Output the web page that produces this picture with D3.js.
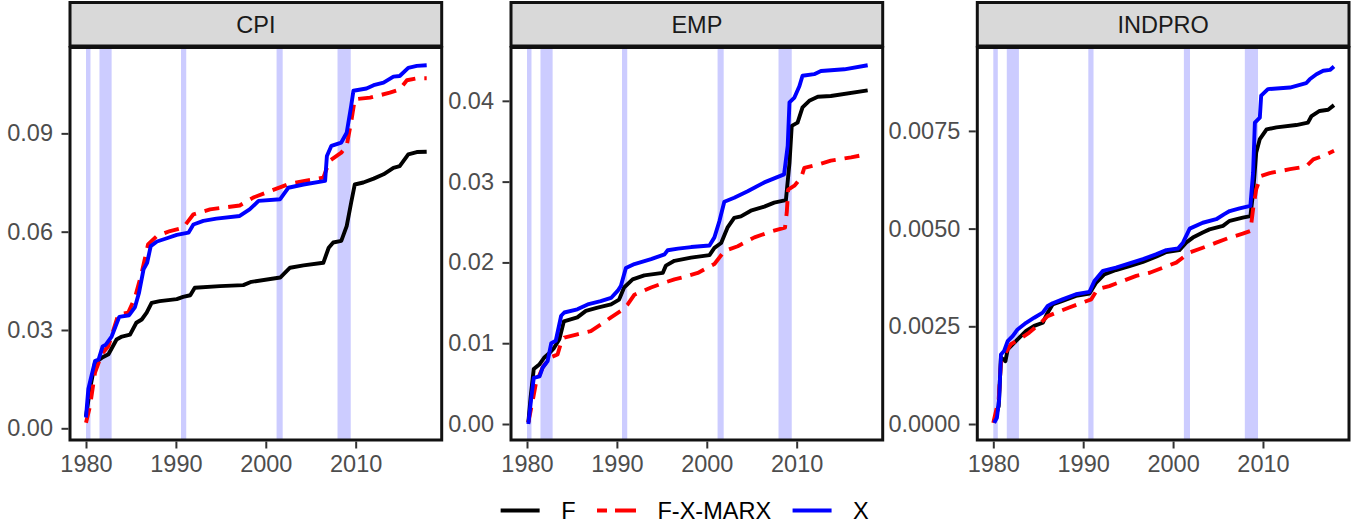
<!DOCTYPE html>
<html>
<head>
<meta charset="utf-8">
<script src="https://cdn.jsdelivr.net/npm/d3@7"></script>
<style>
  html, body { margin: 0; padding: 0; background: #fff; }
  svg { display: block; }
  text { font-family: "Liberation Sans", Arial, Helvetica, sans-serif; }
</style>
</head>
<body>
<svg id="chart" width="1351" height="524"></svg>
<script>
// ---------- DATA ----------
const panelNames = ["CPI", "EMP", "INDPRO"];
const seriesNames = ["F", "F-X-MARX", "X"];
const seriesColors = ["#000000", "#ff0000", "#0000ff"];
const xTicks = [1980, 1990, 2000, 2010];
const recessions = [[1980.0, 1980.5], [1981.5, 1982.85], [1990.57, 1991.15], [2001.2, 2001.88], [2007.98, 2009.45]];

const cpiTicks = [0, 0.03, 0.06, 0.09];
const cpiTickLabels = ["0.00", "0.03", "0.06", "0.09"];
const empTicks = [0, 0.01, 0.02, 0.03, 0.04];
const empTickLabels = ["0.00", "0.01", "0.02", "0.03", "0.04"];
const indproTicks = [0, 0.0025, 0.005, 0.0075];
const indproTickLabels = ["0.0000", "0.0025", "0.0050", "0.0075"];

const cpiF = [[1980.0,0.0037],[1980.45,0.012],[1981.0,0.020],[1981.75,0.0215],[1982.5,0.0226],[1983.4,0.0271],[1984.0,0.028],[1984.9,0.0286],[1985.6,0.0322],[1986.2,0.0332],[1986.75,0.0353],[1987.3,0.0383],[1988.2,0.0388],[1990.1,0.0394],[1990.8,0.0401],[1991.6,0.0406],[1992.1,0.0429],[1994.9,0.0434],[1997.5,0.0437],[1998.4,0.0447],[2001.6,0.046],[2002.7,0.049],[2004.2,0.0497],[2006.4,0.0505],[2007.0,0.0551],[2007.5,0.0567],[2008.4,0.0572],[2009.0,0.0617],[2009.5,0.0689],[2009.9,0.0744],[2010.85,0.075],[2012.0,0.0762],[2013.1,0.0775],[2014.2,0.0795],[2014.9,0.080],[2015.85,0.0836],[2016.8,0.0843],[2017.9,0.0844]];
const cpiMarx = [[1980.0,0.0017],[1980.45,0.0068],[1981.0,0.017],[1981.75,0.0226],[1982.5,0.0251],[1983.05,0.030],[1983.6,0.0348],[1984.7,0.0353],[1985.45,0.0399],[1986.2,0.0475],[1986.9,0.0561],[1987.9,0.0587],[1989.35,0.0602],[1990.8,0.0612],[1991.95,0.0653],[1993.8,0.0668],[1997.1,0.068],[1998.6,0.0704],[2000.5,0.0724],[2002.7,0.0747],[2006.4,0.0765],[2007.1,0.0816],[2008.4,0.0841],[2009.0,0.0862],[2009.55,0.0943],[2009.9,0.1004],[2011.6,0.1009],[2013.8,0.1024],[2014.9,0.1034],[2015.7,0.1062],[2016.8,0.1068],[2017.9,0.1068]];
const cpiX = [[1980.0,0.0033],[1980.26,0.012],[1981.0,0.0205],[1981.4,0.021],[1981.85,0.025],[1982.2,0.0255],[1982.85,0.028],[1983.7,0.034],[1984.8,0.0345],[1985.45,0.037],[1985.9,0.0414],[1986.4,0.0485],[1986.8,0.0505],[1987.2,0.0556],[1987.9,0.057],[1989.0,0.058],[1990.1,0.059],[1991.4,0.0597],[1991.95,0.0622],[1993.05,0.0633],[1994.5,0.064],[1997.1,0.0648],[1998.2,0.0668],[1999.2,0.0694],[2001.6,0.0699],[2002.5,0.0734],[2004.2,0.0744],[2006.6,0.0755],[2006.8,0.0831],[2007.3,0.0862],[2008.4,0.0872],[2009.0,0.0902],[2009.5,0.0984],[2009.75,0.103],[2011.2,0.1037],[2012.0,0.1047],[2013.1,0.1055],[2014.2,0.1073],[2014.9,0.1075],[2015.85,0.110],[2016.8,0.1106],[2017.9,0.1108]];

const empF = [[1980.15,0.0002],[1980.4,0.0033],[1980.75,0.0068],[1981.4,0.0074],[1981.9,0.0082],[1982.5,0.0088],[1983.0,0.0094],[1983.6,0.0105],[1984.1,0.0127],[1985.6,0.0132],[1986.55,0.014],[1987.85,0.0144],[1989.35,0.0148],[1990.25,0.0154],[1990.8,0.0169],[1991.75,0.0179],[1993.05,0.0184],[1995.1,0.0187],[1995.45,0.0196],[1996.4,0.0202],[1998.25,0.0206],[2000.3,0.0209],[2000.85,0.0218],[2001.6,0.0224],[2002.3,0.0243],[2003.05,0.0255],[2003.8,0.0257],[2004.9,0.0264],[2006.4,0.0269],[2007.5,0.0274],[2008.8,0.0277],[2009.2,0.0323],[2009.45,0.0369],[2010.1,0.0373],[2010.65,0.0392],[2011.4,0.040],[2012.35,0.0405],[2013.8,0.0406],[2017.9,0.0413]];
const empMarx = [[1980.15,0.0002],[1980.65,0.003],[1981.0,0.0051],[1981.75,0.007],[1982.5,0.0082],[1983.4,0.0086],[1983.8,0.0101],[1984.15,0.0107],[1985.6,0.0111],[1987.1,0.0115],[1988.2,0.0123],[1989.35,0.0132],[1990.45,0.014],[1991.2,0.0148],[1991.95,0.016],[1993.8,0.0169],[1995.3,0.0175],[1996.4,0.0179],[1997.5,0.0182],[1999.0,0.0187],[2000.85,0.0198],[2001.95,0.0214],[2003.45,0.022],[2005.3,0.0231],[2007.1,0.0238],[2008.7,0.0243],[2008.9,0.0262],[2009.05,0.029],[2009.75,0.0295],[2010.5,0.0305],[2010.85,0.0317],[2012.35,0.0321],[2013.8,0.0326],[2016.05,0.033],[2017.9,0.0334]];
const empX = [[1980.15,0.0],[1980.45,0.003],[1980.75,0.0057],[1981.4,0.0059],[1981.75,0.007],[1982.3,0.0078],[1982.7,0.010],[1983.2,0.0103],[1983.8,0.0134],[1984.15,0.0138],[1985.6,0.0142],[1986.75,0.0148],[1988.2,0.0152],[1989.35,0.0156],[1990.1,0.0165],[1990.45,0.0171],[1991.0,0.0193],[1991.95,0.0198],[1993.8,0.0204],[1995.3,0.021],[1995.65,0.0215],[1996.8,0.0217],[1998.25,0.0219],[2000.3,0.0221],[2000.85,0.0231],[2001.4,0.0251],[2001.95,0.0275],[2003.05,0.028],[2004.55,0.0288],[2006.4,0.0299],[2007.5,0.0304],[2008.6,0.0309],[2009.0,0.0344],[2009.2,0.0398],[2009.75,0.0404],[2010.3,0.0418],[2010.65,0.0431],[2011.95,0.0433],[2012.7,0.0437],[2015.3,0.0439],[2017.9,0.0444]];

const indproF = [[1980.1,0.00005],[1980.6,0.00046],[1980.85,0.0017],[1981.35,0.00161],[1981.6,0.00191],[1982.15,0.00204],[1982.9,0.00221],[1983.65,0.00238],[1984.55,0.00251],[1985.5,0.00259],[1986.05,0.00285],[1986.6,0.00306],[1987.7,0.00315],[1989.2,0.00328],[1990.7,0.00334],[1991.45,0.00362],[1992.35,0.00383],[1993.65,0.00394],[1995.15,0.00404],[1996.65,0.00415],[1998.1,0.00428],[1999.25,0.0044],[2000.7,0.00445],[2001.45,0.00464],[2002.2,0.00477],[2003.3,0.0049],[2004.05,0.00498],[2005.55,0.00507],[2006.3,0.0052],[2007.75,0.00528],[2008.6,0.00532],[2008.9,0.00592],[2009.25,0.00695],[2009.65,0.00729],[2010.4,0.00754],[2011.5,0.00759],[2013.7,0.00765],[2015.0,0.00771],[2015.4,0.00788],[2016.3,0.00801],[2017.25,0.00804],[2017.9,0.00816]];
const indproMarx = [[1980.0,0.00003],[1980.6,0.00063],[1980.85,0.00157],[1981.4,0.00183],[1981.95,0.00204],[1982.9,0.00217],[1984.0,0.00234],[1985.1,0.00255],[1986.05,0.00276],[1987.0,0.00285],[1988.45,0.00298],[1989.95,0.00311],[1990.9,0.00319],[1991.6,0.00345],[1992.9,0.00353],[1994.4,0.00366],[1995.9,0.00379],[1997.4,0.00387],[1998.85,0.004],[2000.35,0.00413],[2001.85,0.00439],[2003.3,0.00451],[2004.8,0.00464],[2006.3,0.00477],[2007.75,0.00487],[2008.6,0.00494],[2008.9,0.0055],[2009.25,0.00601],[2009.8,0.00635],[2010.75,0.00642],[2013.0,0.00652],[2014.8,0.00659],[2015.6,0.00677],[2016.7,0.00686],[2017.9,0.00699]];
const indproX = [[1980.1,0.00003],[1980.4,0.00016],[1980.65,0.00063],[1980.85,0.00178],[1981.2,0.00187],[1981.6,0.00212],[1982.15,0.00225],[1982.7,0.00242],[1983.65,0.00259],[1984.55,0.00272],[1985.5,0.00285],[1986.05,0.00302],[1986.6,0.00309],[1987.7,0.00319],[1989.2,0.00332],[1990.7,0.00338],[1991.25,0.00366],[1992.2,0.00392],[1993.65,0.004],[1995.15,0.00411],[1996.65,0.00422],[1998.1,0.00434],[1999.25,0.00445],[2000.55,0.00449],[2001.1,0.00464],[2001.85,0.005],[2003.3,0.00515],[2004.8,0.00524],[2005.7,0.00537],[2006.3,0.00545],[2007.4,0.00552],[2008.6,0.00558],[2008.9,0.00643],[2009.1,0.00771],[2009.65,0.00784],[2009.8,0.0084],[2010.55,0.00857],[2013.0,0.00861],[2014.8,0.00872],[2015.2,0.00882],[2015.95,0.00895],[2016.7,0.00904],[2017.45,0.00906],[2017.9,0.00915]];

// ---------- LAYOUT ----------
const panels = [
  { name: panelNames[0], left: 70,    yDomain: [-0.00357, 0.1162],   ticks: cpiTicks,    labels: cpiTickLabels,    series: [cpiF, cpiMarx, cpiX] },
  { name: panelNames[1], left: 511,   yDomain: [-0.00198, 0.0466],   ticks: empTicks,    labels: empTickLabels,    series: [empF, empMarx, empX] },
  { name: panelNames[2], left: 977.3, yDomain: [-0.000409, 0.009634], ticks: indproTicks, labels: indproTickLabels, series: [indproF, indproMarx, indproX] }
];
const panelW = 371.7;
const panelTop = 47.5, panelBottom = 440;
const stripTop = 2.5, stripBottom = 46;
const xDomain = [1978.22, 2019.57];
const fontSize = 23.5;
const lineW = 3.9;
const dash = "15,9";

const svg = d3.select("#chart");

panels.forEach((p, i) => {
  const x = d3.scaleLinear().domain(xDomain).range([p.left, p.left + panelW]);
  const y = d3.scaleLinear().domain(p.yDomain).range([panelBottom, panelTop]);
  const g = svg.append("g");

  const clipId = "clip" + i;
  svg.append("clipPath").attr("id", clipId).append("rect")
    .attr("x", p.left).attr("y", panelTop).attr("width", panelW).attr("height", panelBottom - panelTop);

  // panel background
  g.append("rect").attr("x", p.left).attr("y", panelTop).attr("width", panelW).attr("height", panelBottom - panelTop).attr("fill", "#fff");

  // recession bands
  g.append("g").attr("clip-path", `url(#${clipId})`).selectAll("rect").data(recessions).join("rect")
    .attr("x", d => x(d[0])).attr("width", d => x(d[1]) - x(d[0]))
    .attr("y", panelTop).attr("height", panelBottom - panelTop)
    .attr("fill", "#ccccff");

  // lines
  const line = d3.line().x(d => x(d[0])).y(d => y(d[1]));
  const lg = g.append("g").attr("clip-path", `url(#${clipId})`);
  p.series.forEach((s, k) => {
    lg.append("path").datum(s).attr("d", line)
      .attr("fill", "none").attr("stroke", seriesColors[k]).attr("stroke-width", lineW)
      .attr("stroke-linejoin", "round").attr("stroke-linecap", "butt")
      .attr("stroke-dasharray", k === 1 ? dash : null);
  });

  // panel border
  g.append("rect").attr("x", p.left).attr("y", panelTop).attr("width", panelW).attr("height", panelBottom - panelTop)
    .attr("fill", "none").attr("stroke", "#111").attr("stroke-width", 3);

  // strip
  g.append("rect").attr("x", p.left).attr("y", stripTop).attr("width", panelW).attr("height", stripBottom - stripTop)
    .attr("fill", "#d9d9d9").attr("stroke", "#111").attr("stroke-width", 3);
  g.append("text").attr("x", p.left + panelW / 2).attr("y", (stripTop + stripBottom) / 2 + 1).attr("dy", "0.35em")
    .attr("text-anchor", "middle").attr("font-size", fontSize).attr("fill", "#1a1a1a").text(p.name);

  // y axis
  const yAxis = d3.axisLeft(y).tickValues(p.ticks).tickFormat((d, j) => p.labels[j]).tickSize(7).tickPadding(8.5);
  const ya = g.append("g").attr("transform", `translate(${p.left - 1.5},0)`).call(yAxis);
  ya.select(".domain").remove();
  ya.selectAll(".tick line").attr("stroke", "#333").attr("stroke-width", 2);
  ya.selectAll(".tick text").attr("font-size", fontSize).attr("fill", "#4d4d4d")
    .attr("font-family", "'Liberation Sans', Arial, Helvetica, sans-serif");

  // x axis
  const xAxis = d3.axisBottom(x).tickValues(xTicks).tickFormat(d3.format("d")).tickSize(7).tickPadding(7);
  const xa = g.append("g").attr("transform", `translate(0,${panelBottom + 1.5})`).call(xAxis);
  xa.select(".domain").remove();
  xa.selectAll(".tick line").attr("stroke", "#333").attr("stroke-width", 2);
  xa.selectAll(".tick text").attr("font-size", fontSize).attr("fill", "#4d4d4d")
    .attr("font-family", "'Liberation Sans', Arial, Helvetica, sans-serif");
});

// ---------- LEGEND ----------
const legendY = 510.5;
const keyW = 39, keyGap = 21.5, itemGap = 21.5;
const leg = svg.append("g");
let cx = 0;
seriesNames.forEach((name, k) => {
  const it = leg.append("g");
  it.append("line").attr("x1", 0).attr("x2", keyW).attr("y1", legendY).attr("y2", legendY)
    .attr("stroke", seriesColors[k]).attr("stroke-width", lineW + 0.3)
    .attr("stroke-dasharray", k === 1 ? "10,8,21" : null);
  const t = it.append("text").attr("x", keyW + keyGap).attr("y", legendY).attr("dy", "0.35em")
    .attr("font-size", fontSize).attr("fill", "#000").text(name);
  const w = keyW + keyGap + t.node().getComputedTextLength();
  it.attr("transform", `translate(${cx},0)`);
  cx += w + itemGap;
});
const totalW = cx - itemGap;
leg.attr("transform", `translate(${684.7 - totalW / 2},0)`);
</script>
</body>
</html>
